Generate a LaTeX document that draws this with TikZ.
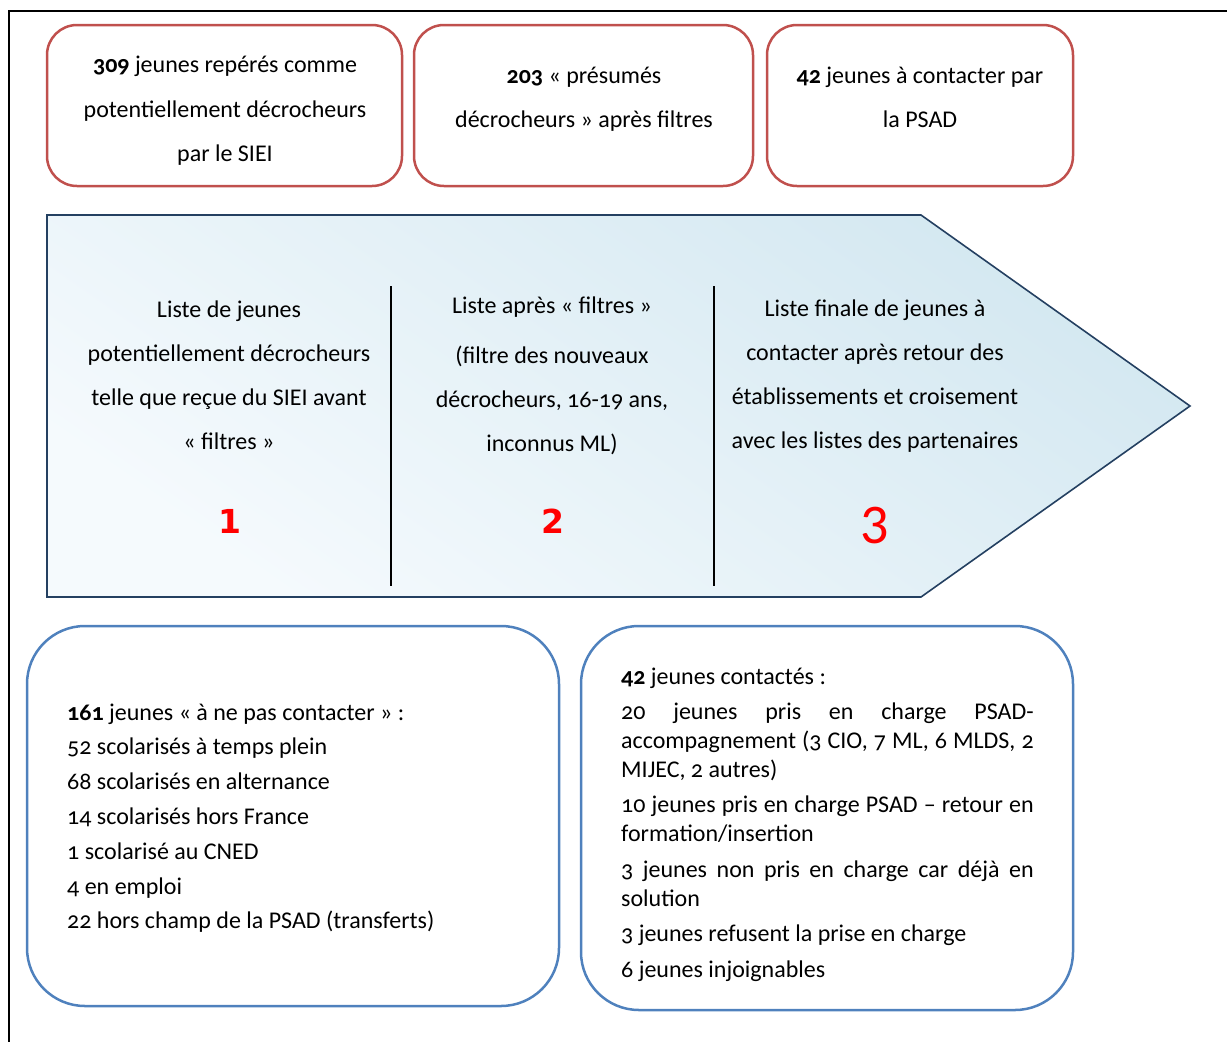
\documentclass[tikz,border=0pt]{standalone}
\usepackage{fontspec}
\setmainfont{Carlito}[Numbers=OldStyle]
\newfontfamily\stepnumfont{DejaVu Sans}
\newfontfamily\bignumfont{Carlito}[Numbers=Lining]
\usetikzlibrary{shadings}

\definecolor{boxred}{RGB}{192,80,77}
\definecolor{boxblue}{RGB}{79,129,189}
\definecolor{arrowedge}{RGB}{36,64,97}
\definecolor{shadetop}{RGB}{212,232,241}
\definecolor{shadebot}{RGB}{245,250,253}
\definecolor{numred}{RGB}{255,0,0}

\tikzset{
  redbox/.style={draw=boxred, line width=2.5pt, rounded corners=30pt, inner sep=0pt},
  bluebox/.style={draw=boxblue, line width=2.5pt, rounded corners=58pt, inner sep=0pt},
  headtxt/.style={text width=340pt, align=flush center, inner sep=0pt, anchor=base,
    font=\fontsize{24}{44.3}\selectfont},
  coltxt/.style={text width=310pt, align=flush center, inner sep=0pt, anchor=base,
    font=\fontsize{24}{44}\selectfont},
  listtxt/.style={align=justify, inner sep=0pt, anchor=base west,
    font=\fontsize{24}{28.8}\selectfont},
  stepnum/.style={text=numred, inner sep=0pt, anchor=base,
    font=\stepnumfont\bfseries\fontsize{33}{36}\selectfont},
  divider/.style={line width=2pt, black},
}

\begin{document}
\begin{tikzpicture}[x=1pt,y=-1pt]
\useasboundingbox (0,0) rectangle (1227,1042);

% page frame (only top and left edges fall inside the picture)
\draw[line width=1.5pt] (1227,11) -- (9,11) -- (9,1042);

% counts after each stage
\node[redbox, minimum width=355pt, minimum height=161pt] (c1) at (224.5,105.5) {};
\node[redbox, minimum width=339pt, minimum height=161pt] (c2) at (583.5,105.5) {};
\node[redbox, minimum width=306pt, minimum height=161pt] (c3) at (920,105.5) {};
\node[headtxt] (c1t) at (225,72.7) {\textbf{309} jeunes repérés comme\\potentiellement décrocheurs\\par le SIEI};
\node[headtxt] (c2t) at (584,83.3) {\textbf{203} « présumés\\décrocheurs » après filtres};
\node[headtxt] (c3t) at (920,83.3) {\textbf{42} jeunes à contacter par\\la PSAD};

% process arrow
\path[draw=arrowedge, line width=1.6pt, top color=shadetop, bottom color=shadebot, shading angle=-35]
  (47,215) -- (921,215) -- (1190,406) -- (921,597) -- (47,597) -- cycle;
\draw[divider] (391,286) -- (391,586);
\draw[divider] (714,286) -- (714,586);

\node[coltxt] (s1) at (229,317) {Liste de jeunes\\potentiellement décrocheurs\\telle que reçue du SIEI avant\\« filtres »};
\node[coltxt] (s2) at (552,313) {Liste après « filtres »\\[6pt](filtre des nouveaux\\décrocheurs, 16-19 ans,\\inconnus ML)};
\node[coltxt] (s3) at (875,316) {Liste finale de jeunes à\\contacter après retour des\\établissements et croisement\\avec les listes des partenaires};

\node[stepnum] (n1) at (229.7,533) {1};
\node[stepnum] (n2) at (553,533) {2};
\node[text=numred, inner sep=0pt, anchor=base, font=\bignumfont\fontsize{56}{60}\selectfont] (n3) at (874.7,543) {3};

% outcome boxes
\node[bluebox, minimum width=532pt, minimum height=380pt] (o1) at (293,816) {};
\node[bluebox, minimum width=492pt, minimum height=384pt] (o2) at (827,818) {};

\node[listtxt, text width=480pt] (o1t) at (67,720) {\setlength{\parskip}{6pt}%
\textbf{161} jeunes « à ne pas contacter » :\par
52 scolarisés à temps plein\par
68 scolarisés en alternance\par
14 scolarisés hors France\par
1 scolarisé au CNED\par
4 en emploi\par
22 hors champ de la PSAD (transferts)};

\node[listtxt, text width=412.5pt] (o2t) at (621,684) {\setlength{\parskip}{6.8pt}\hyphenpenalty=10000 %
\textbf{42} jeunes contactés :\par
20 jeunes pris en charge PSAD-\linebreak accompagnement (3 CIO, 7 ML, 6 MLDS, 2\linebreak MIJEC, 2 autres)\par
10 jeunes pris en charge PSAD – retour en\linebreak formation/insertion\par
3 jeunes non pris en charge car déjà en\linebreak solution\par
3 jeunes refusent la prise en charge\par
6 jeunes injoignables};
\end{tikzpicture}
\end{document}
